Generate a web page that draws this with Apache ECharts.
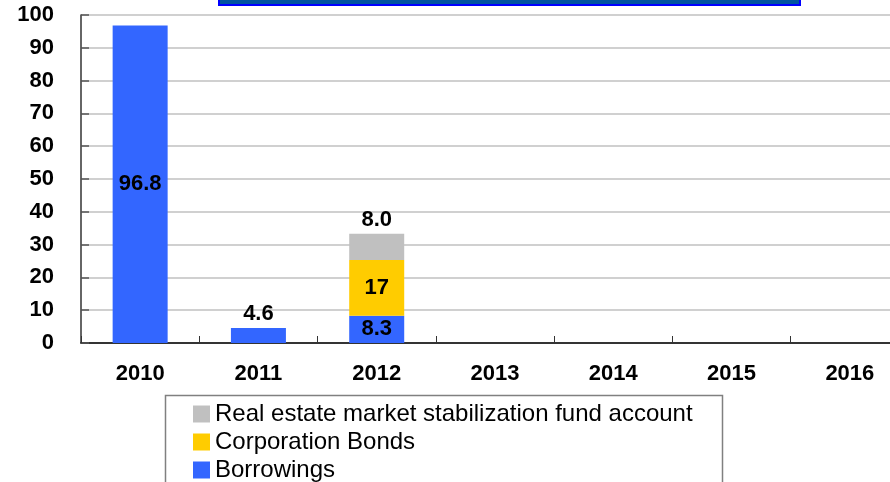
<!DOCTYPE html>
<html>
<head>
<meta charset="utf-8">
<script src="https://cdn.jsdelivr.net/npm/echarts@6/dist/echarts.min.js"></script>
<style>
  html, body { margin: 0; padding: 0; background: #fff; }
  #chart { width: 890px; height: 482px; }
</style>
</head>
<body>
<div id="chart"></div>
<script>
// Funding sources by year (trillion won)
var years = ['2010', '2011', '2012', '2013', '2014', '2015', '2016'];
var borrowings = [96.8, 4.6, 8.3, null, null, null, null];
var corporationBonds = [null, null, 17, null, null, null, null];
var stabilizationFund = [null, null, 8.0, null, null, null, null];
var yTicks = [0, 10, 20, 30, 40, 50, 60, 70, 80, 90, 100];

var FONT = '"Liberation Sans", Arial, sans-serif';

var chart = echarts.init(document.getElementById('chart'), null, { renderer: 'canvas' });

function valueLabel(position, fmt) {
  return {
    show: true,
    position: position,
    distance: 3,
    color: '#000',
    fontFamily: FONT,
    fontWeight: 'bold',
    fontSize: 22,
    formatter: function (p) {
      return p.value == null ? '' : fmt(p.value);
    }
  };
}

var oneDecimal = function (v) { return Number(v).toFixed(1); };
var integer = function (v) { return String(Math.round(v)); };

// Short borrowings bars with nothing stacked on them carry their value above the bar.
var borrowingsData = borrowings.map(function (v, i) {
  if (v != null && v < 6 && corporationBonds[i] == null && stabilizationFund[i] == null) {
    return { value: v, label: { position: 'top' } };
  }
  return v;
});

chart.setOption({
  animation: false,
  backgroundColor: '#fff',
  // the last category runs past the right edge of the canvas
  grid: { left: 81, top: 15, width: 828, height: 328, outerBoundsMode: 'none' },
  xAxis: {
    type: 'category',
    data: years,
    boundaryGap: true,
    axisLine: { show: true, lineStyle: { color: '#000', width: 1.5 } },
    axisTick: { show: true, inside: true, length: 7, lineStyle: { color: '#333', width: 1 } },
    axisLabel: {
      color: '#000', fontFamily: FONT, fontWeight: 'bold', fontSize: 22, margin: 20
    },
    splitLine: { show: false }
  },
  yAxis: {
    type: 'value',
    min: yTicks[0],
    max: yTicks[yTicks.length - 1],
    interval: 10,
    axisLine: { show: true, lineStyle: { color: '#333', width: 1.5 } },
    axisTick: { show: true, inside: true, length: 8, lineStyle: { color: '#555', width: 1.5 } },
    axisLabel: {
      color: '#000', fontFamily: FONT, fontWeight: 'bold', fontSize: 22, margin: 27
    },
    splitLine: { show: true, lineStyle: { color: '#c0c0c0', width: 1.5 } }
  },
  legend: {
    orient: 'vertical',
    left: 193,
    top: 402,
    height: 120,
    padding: 0,
    itemWidth: 17,
    itemHeight: 17,
    itemGap: 4,
    icon: 'rect',
    selectedMode: false,
    data: ['Real estate market stabilization fund account', 'Corporation Bonds', 'Borrowings'],
    textStyle: { color: '#000', fontFamily: FONT, fontSize: 24, lineHeight: 21 }
  },
  graphic: [
    {
      type: 'rect',
      silent: true,
      shape: { x: 165.5, y: 395.5, width: 557, height: 100 },
      style: { fill: 'none', stroke: '#808080', lineWidth: 1.5 }
    },
    {
      type: 'rect',
      silent: true,
      shape: { x: 219, y: -10, width: 581, height: 15 },
      style: { fill: '#0054a0', stroke: '#0000ff', lineWidth: 2 }
    }
  ],
  series: [
    {
      name: 'Borrowings',
      type: 'bar',
      stack: 'total',
      barWidth: 55,
      data: borrowingsData,
      itemStyle: { color: '#3366ff' },
      label: valueLabel('inside', oneDecimal)
    },
    {
      name: 'Corporation Bonds',
      type: 'bar',
      stack: 'total',
      barWidth: 55,
      data: corporationBonds,
      itemStyle: { color: '#ffcc00' },
      label: valueLabel('inside', integer)
    },
    {
      name: 'Real estate market stabilization fund account',
      type: 'bar',
      stack: 'total',
      barWidth: 55,
      data: stabilizationFund,
      itemStyle: { color: '#c0c0c0' },
      label: valueLabel('top', oneDecimal)
    }
  ]
});
</script>
</body>
</html>
